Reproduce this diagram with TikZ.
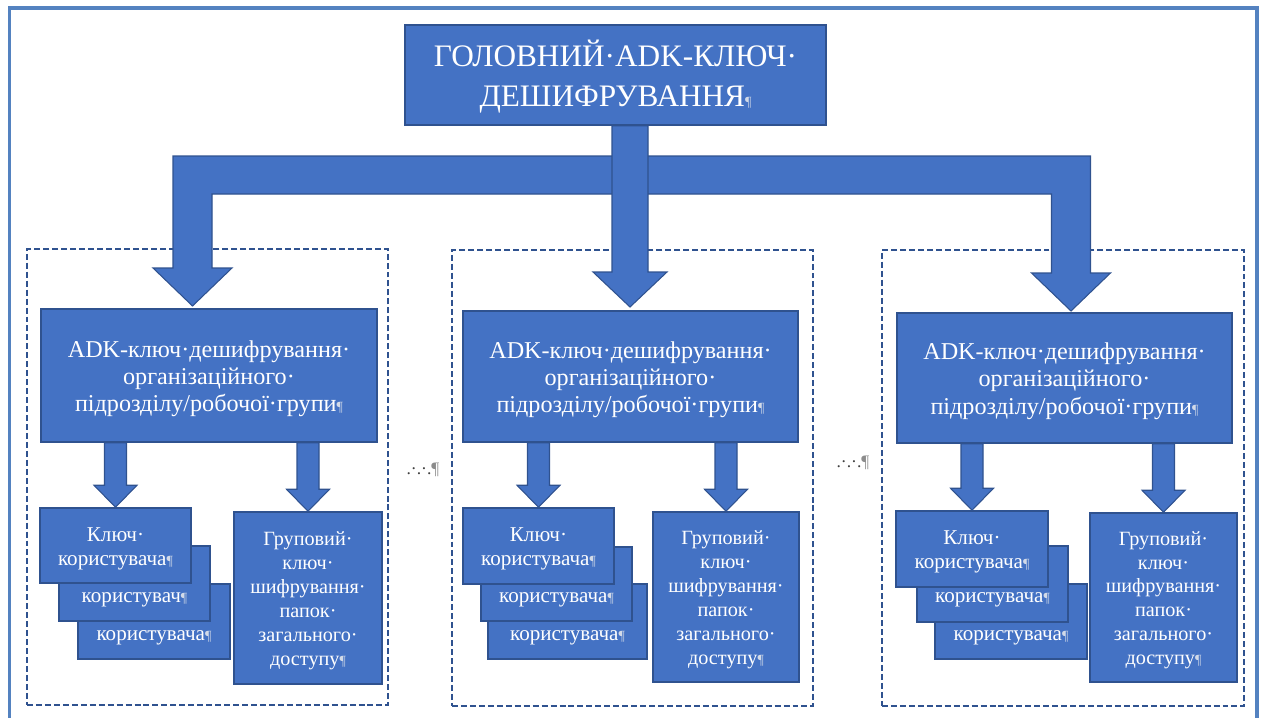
\documentclass[tikz,border=0pt]{standalone}
\usepackage{fontspec}
\setmainfont{Liberation Serif}
\usetikzlibrary{calc}
\definecolor{boxfill}{RGB}{68,114,196}
\definecolor{boxline}{RGB}{47,82,143}
\definecolor{framecol}{RGB}{84,130,192}
\definecolor{pilgray}{RGB}{210,218,232}
\def\px{0.02cm}
\def\tp{\rule{0pt}{0.95em}}
\def\pil{\rule[-0.22em]{0pt}{0pt}{\footnotesize\color{pilgray}¶}}
% down arrow: y of #1, tip #2, stem half width #3, head half width #4, head length #5
\def\dnarrow(#1)(#2)#3#4#5{\draw[blkarrow] let \p1=(#1), \p2=(#2) in
  (\x2-#3*\px,\y1) -- (\x2-#3*\px,\y2+#5*\px) -- (\x2-#4*\px,\y2+#5*\px) -- (\x2,\y2)
  -- (\x2+#4*\px,\y2+#5*\px) -- (\x2+#3*\px,\y2+#5*\px) -- (\x2+#3*\px,\y1) -- cycle;}
% bent arrow from the hub #1 to tip #2, #3 = 1 to the left, -1 to the right
\def\bentarrow(#1)(#2)#3{\draw[blkarrow] let \p1=(#1), \p2=(#2) in
  (\x1,\y1+19*\px) -- ({\x2-(#3)*19.5*\px},\y1+19*\px) -- ({\x2-(#3)*19.5*\px},\y2+38*\px)
  -- ({\x2-(#3)*39.5*\px},\y2+38*\px) -- (\x2,\y2) -- ({\x2+(#3)*39.5*\px},\y2+38*\px)
  -- ({\x2+(#3)*19.5*\px},\y2+38*\px) -- ({\x2+(#3)*19.5*\px},\y1-19*\px) -- (\x1,\y1-19*\px) -- cycle;}
\tikzset{
  wh/.style 2 args={minimum width=#1*\px, minimum height=#2*\px},
  keybox/.style={draw=boxline, fill=boxfill, line width=0.85pt, inner sep=0pt, text=white, align=center},
  topbox/.style={keybox, font=\fontsize{17.8}{22.5}\selectfont},
  unitbox/.style={keybox, font=\fontsize{13.75}{15.5}\selectfont},
  userbox/.style={keybox, font=\fontsize{12}{13.8}\selectfont},
  groupbox/.style={keybox, font=\fontsize{11.5}{13.6}\selectfont},
  userlbl/.style={text=white, inner sep=0pt, font=\fontsize{12}{13.8}\selectfont},
  groupframe/.style={draw=boxline, line width=0.9pt, dash pattern=on 3.4pt off 1.7pt, inner sep=0pt},
  blkarrow/.style={draw=boxline, fill=boxfill, line width=0.6pt, line join=miter},
  gapdots/.style={text=black!75, font=\fontsize{10}{10}\selectfont}
}
\begin{document}
\begin{tikzpicture}[x=0.02cm, y=-0.02cm]
  \useasboundingbox (0,0) rectangle (1261,717);
  %%%%% frame %%%%%
  \draw[framecol, line width=2.2pt] (9.5,8) rectangle (1257,740);

  \node[groupframe, wh={361}{456}] (g1) at (207.5,477) {};
  \node[groupframe, wh={361}{456}] (g2) at (632.5,478) {};
  \node[groupframe, wh={362}{456}] (g3) at (1063,478) {};

  %%%%% top %%%%%
  \node[topbox, wh={421}{100}] (title) at (615.5,75) {\tp ГОЛОВНИЙ·ADK-КЛЮЧ·\\ДЕШИФРУВАННЯ\pil};

  \node[unitbox, wh={336}{133}] (m1) at (209,375.5) {\tp ADK-ключ·дешифрування·\\організаційного·\\підрозділу/робочої·групи\pil};
  \node[unitbox, wh={335}{131}] (m2) at (630.5,376.5) {\tp ADK-ключ·дешифрування·\\організаційного·\\підрозділу/робочої·групи\pil};
  \node[unitbox, wh={335}{130}] (m3) at (1064.5,378) {\tp ADK-ключ·дешифрування·\\організаційного·\\підрозділу/робочої·групи\pil};

  \coordinate (hub) at (630,175);
  \coordinate (t1) at (192.5,306);
  \coordinate (t2) at (630,307);
  \coordinate (t3) at (1071,311);
  \bentarrow(hub)(t1){1}
  \bentarrow(hub)(t3){-1}
  \dnarrow(title.south)(t2){18}{37}{35}

  %%%%% left group %%%%%
  \node[userbox, wh={152}{75}, label={[userlbl, yshift=-16*\px]center:користувача\pil}] (u1c) at (154,621.5) {};
  \node[userbox, wh={151}{75}, label={[userlbl, yshift=-16*\px]center:користувач\pil}] (u1b) at (134.5,583.5) {};
  \node[userbox, wh={151}{75}] (u1a) at (115.5,545.5) {\tp Ключ·\\користувача\pil};
  \node[groupbox, wh={148}{172}] (k1) at (308,598) {\tp Груповий·\\ключ·\\шифрування·\\папок·\\загального·\\доступу\pil};
  \dnarrow(m1.south)(u1a.north){11}{21.5}{22}
  \dnarrow(m1.south)(k1.north){11}{21.5}{22}

  \node[gapdots] (dots1) at (423,470) {.·.·.{\color{black!45}¶}};

  %%%%% middle group %%%%%
  \node[userbox, wh={159}{75}, label={[userlbl, yshift=-16*\px]center:користувача\pil}] (u2c) at (567.5,621.5) {};
  \node[userbox, wh={151}{74}, label={[userlbl, yshift=-16*\px]center:користувача\pil}] (u2b) at (556.5,584) {};
  \node[userbox, wh={151}{76}] (u2a) at (538.5,546) {\tp Ключ·\\користувача\pil};
  \node[groupbox, wh={146}{170}] (k2) at (726,597) {\tp Груповий·\\ключ·\\шифрування·\\папок·\\загального·\\доступу\pil};
  \dnarrow(m2.south)(u2a.north){11}{21.5}{22}
  \dnarrow(m2.south)(k2.north){11}{21.5}{22}

  \node[gapdots] (dots2) at (853,463) {.·.·.{\color{black!45}¶}};

  %%%%% right group %%%%%
  \node[userbox, wh={152}{75}, label={[userlbl, yshift=-16*\px]center:користувача\pil}] (u3c) at (1011,621.5) {};
  \node[userbox, wh={151}{76}, label={[userlbl, yshift=-16*\px]center:користувача\pil}] (u3b) at (992.5,584) {};
  \node[userbox, wh={152}{76}] (u3a) at (972,549) {\tp Ключ·\\користувача\pil};
  \node[groupbox, wh={147}{169}] (k3) at (1163.5,597.5) {\tp Груповий·\\ключ·\\шифрування·\\папок·\\загального·\\доступу\pil};
  \dnarrow(m3.south)(u3a.north){11}{21.5}{22}
  \dnarrow(m3.south)(k3.north){11}{21.5}{22}
\end{tikzpicture}
\end{document}
